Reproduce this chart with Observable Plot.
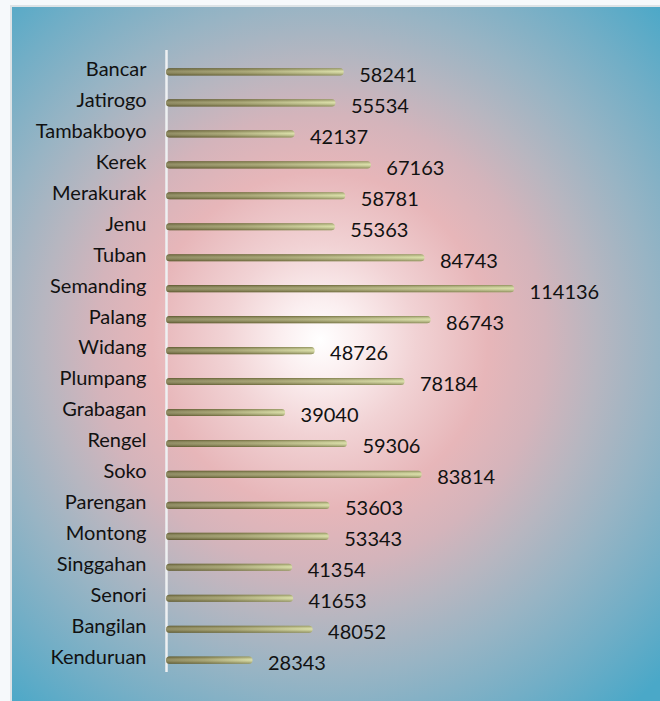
<!DOCTYPE html>
<html>
<head>
<meta charset="utf-8">
<script src="https://cdn.jsdelivr.net/npm/d3@7"></script>
<script src="https://cdn.jsdelivr.net/npm/@observablehq/plot@0.6"></script>
<style>
  html, body { margin: 0; padding: 0; background: #f6f9fb; width: 660px; height: 701px; overflow: hidden; }
  #chart { position: absolute; left: 10px; top: 5px; border-top: 2px solid #dde3e6; border-left: 2px solid #dde3e6; }
  #chart svg { display: block; }
</style>
</head>
<body>
<div id="chart"></div>
<script>
const categories = ["Bancar","Jatirogo","Tambakboyo","Kerek","Merakurak","Jenu","Tuban","Semanding","Palang","Widang","Plumpang","Grabagan","Rengel","Soko","Parengan","Montong","Singgahan","Senori","Bangilan","Kenduruan"];
const values = [58241,55534,42137,67163,58781,55363,84743,114136,86743,48726,78184,39040,59306,83814,53603,53343,41354,41653,48052,28343];

const data = categories.map((name, i) => ({name, value: values[i]}));

const svg = Plot.plot({
  width: 648,
  height: 694,
  marginLeft: 154,
  marginRight: 128,
  marginTop: 43,
  marginBottom: 29,
  style: {
    background: "radial-gradient(circle 480px at 308px 333px, #ffffff 0%, #fbeff0 8%, #f1d2d4 20%, #e7b6b9 35%, #d4b4bb 47%, #b7b6c0 58%, #98b4c4 70%, #72aec6 85%, #4aa8c8 100%)",
    fontFamily: "Lato, 'Open Sans', sans-serif",
    color: "#111"
  },
  x: {domain: [0, 120000], axis: null},
  y: {domain: categories, axis: null, paddingInner: 0.77, paddingOuter: 0.43, align: 0.69, round: false},
  marks: [
    Plot.ruleX([0], {stroke: "#eef0f2", strokeWidth: 2.5}),
    Plot.barX(data, {x: "value", y: "name", fill: "url(#barH)", rx: 3.5}),
    Plot.barX(data, {x: "value", y: "name", fill: "url(#barV)", rx: 3.5}),
    Plot.text(data, {x: 0, y: "name", text: "name", textAnchor: "end", dx: -20, dy: -3, fontSize: 20, fill: "#111"}),
    Plot.text(data, {x: "value", y: "name", text: d => String(d.value), textAnchor: "start", dx: 15, dy: 3, fontSize: 20, fill: "#111"})
  ]
});

d3.select(svg).insert("defs", ":first-child").html(`
  <linearGradient id="barH" x1="0" x2="1" y1="0" y2="0">
    <stop offset="0" stop-color="#6e693c"/>
    <stop offset="0.45" stop-color="#8f8c55"/>
    <stop offset="1" stop-color="#cfd596"/>
  </linearGradient>
  <linearGradient id="barV" x1="0" x2="0" y1="0" y2="1">
    <stop offset="0" stop-color="#4a4520" stop-opacity="0.45"/>
    <stop offset="0.45" stop-color="#ffffe6" stop-opacity="0.25"/>
    <stop offset="1" stop-color="#4a4520" stop-opacity="0.5"/>
  </linearGradient>
`);

document.getElementById("chart").appendChild(svg);
</script>
</body>
</html>
